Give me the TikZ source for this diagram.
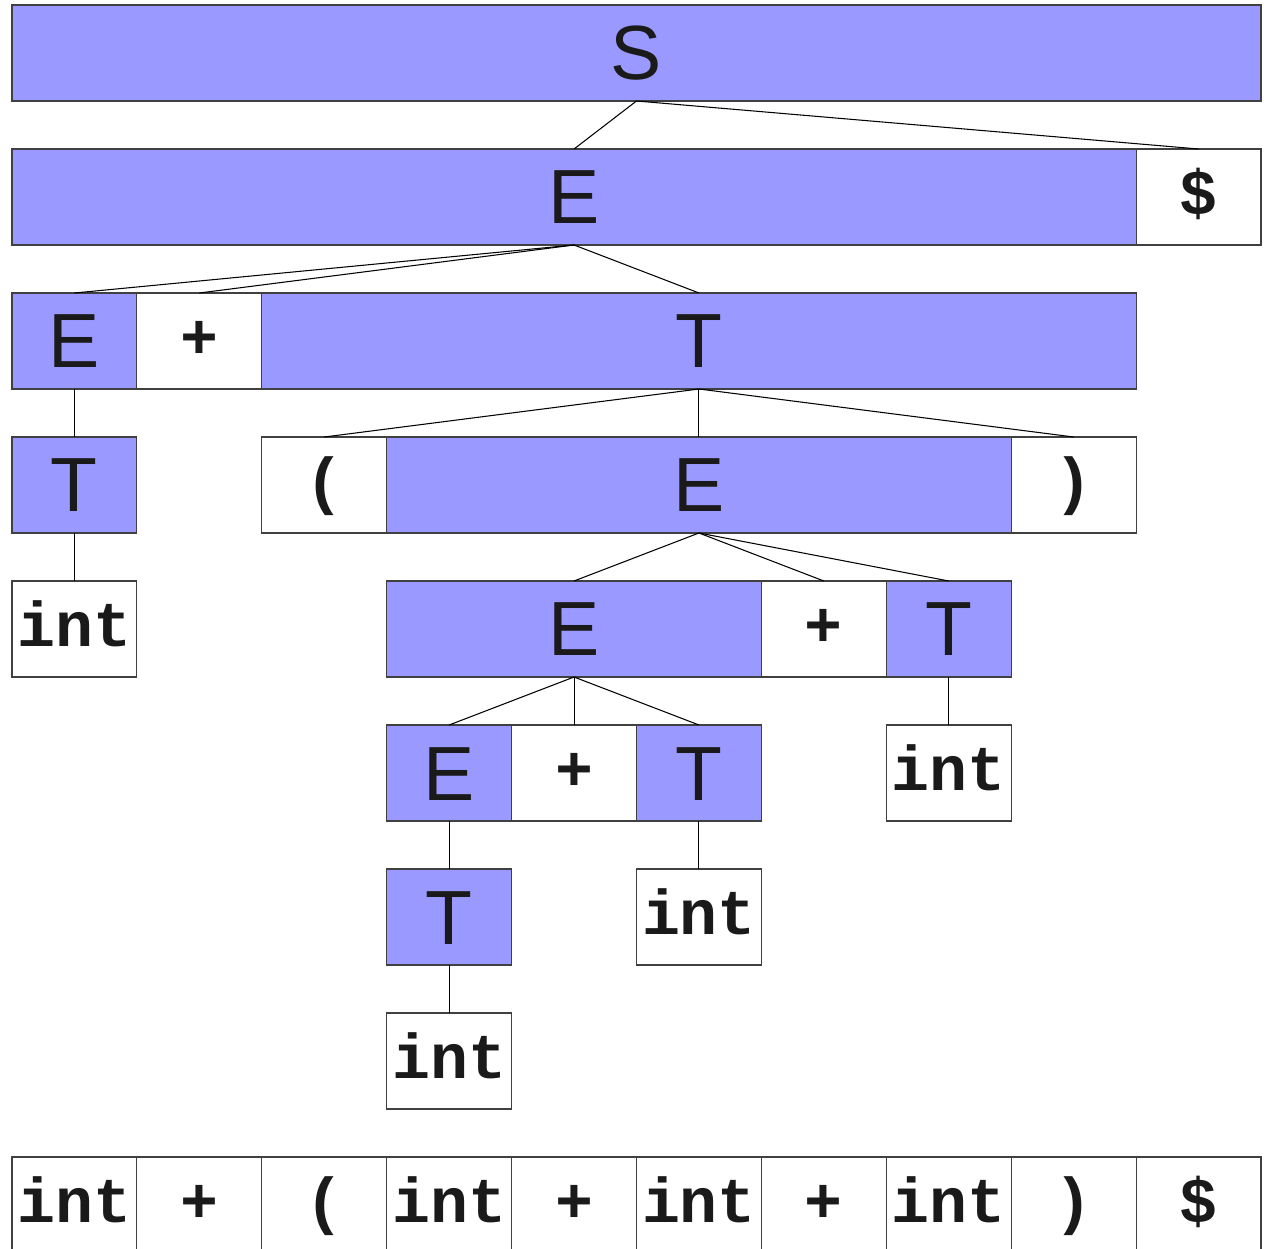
\documentclass[tikz,border=0pt]{standalone}
\usepackage{fontspec}
\newfontfamily\treesans{Liberation Sans}
\newfontfamily\treemono{Liberation Mono}
\definecolor{ntblue}{HTML}{9999FF}
\definecolor{ink}{HTML}{1A1A1A}

\tikzset{
  cell/.style={draw=black!75, line width=0.6pt, minimum height=1.92cm,
    inner sep=0pt, outer sep=0pt, text=ink, text depth=0pt},
  nonterm/.style={cell, fill=ntblue, minimum width=#1*2.498cm, text height=1.08cm,
    font=\treesans\fontsize{43.7}{50}\selectfont},
  nonterm/.default=1,
  term/.style={cell, fill=white, minimum width=#1*2.498cm, text height=0.7cm,
    font=\treemono\bfseries\fontsize{36}{42}\selectfont},
  term/.default=1,
  branch/.style={draw=black, line width=0.6pt}
}

\begin{document}
\begin{tikzpicture}[x=2.498cm, y=-2.88cm]
    \useasboundingbox (0,0) rectangle (25.36cm,-24.98cm);
    \begin{scope}[shift={(0.24cm,-1.06cm)}]
        % derivation tree
        \node[nonterm=10] (S) at (5,0) {S};
        \node[nonterm=9] (E1) at (4.5,1) {E};
        \node[term] (D1) at (9.5,1) {\$};
        \node[nonterm] (E2) at (0.5,2) {E};
        \node[term] (P2) at (1.5,2) {+};
        \node[nonterm=7] (T2) at (5.5,2) {T};
        \node[nonterm] (T3) at (0.5,3) {T};
        \node[term] (LP3) at (2.5,3) {(};
        \node[nonterm=5] (E3) at (5.5,3) {E};
        \node[term] (RP3) at (8.5,3) {)};
        \node[term] (I4) at (0.5,4) {int};
        \node[nonterm=3] (E4) at (4.5,4) {E};
        \node[term] (P4) at (6.5,4) {+};
        \node[nonterm] (T4) at (7.5,4) {T};
        \node[nonterm] (E5) at (3.5,5) {E};
        \node[term] (P5) at (4.5,5) {+};
        \node[nonterm] (T5) at (5.5,5) {T};
        \node[term] (I5) at (7.5,5) {int};
        \node[nonterm] (T6) at (3.5,6) {T};
        \node[term] (I6) at (5.5,6) {int};
        \node[term] (I7) at (3.5,7) {int};

        % input tokens
        \foreach \tok [count=\i from 0] in {int,+,{(},int,+,int,+,int,{)},\$}
            \node[term] (b\i) at (\i+0.5,8) {\tok};

        \draw[branch] (S.south) -- (E1.north);
        \draw[branch] (S.south) -- (D1.north);
        \draw[branch] (E1.south) -- (E2.north);
        \draw[branch] (E1.south) -- (P2.north);
        \draw[branch] (E1.south) -- (T2.north);
        \draw[branch] (E2.south) -- (T3.north);
        \draw[branch] (T2.south) -- (LP3.north);
        \draw[branch] (T2.south) -- (E3.north);
        \draw[branch] (T2.south) -- (RP3.north);
        \draw[branch] (T3.south) -- (I4.north);
        \draw[branch] (E3.south) -- (E4.north);
        \draw[branch] (E3.south) -- (P4.north);
        \draw[branch] (E3.south) -- (T4.north);
        \draw[branch] (E4.south) -- (E5.north);
        \draw[branch] (E4.south) -- (P5.north);
        \draw[branch] (E4.south) -- (T5.north);
        \draw[branch] (T4.south) -- (I5.north);
        \draw[branch] (E5.south) -- (T6.north);
        \draw[branch] (T5.south) -- (I6.north);
        \draw[branch] (T6.south) -- (I7.north);
    \end{scope}
\end{tikzpicture}
\end{document}
